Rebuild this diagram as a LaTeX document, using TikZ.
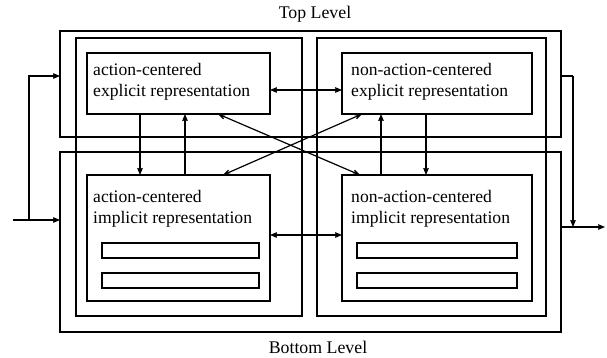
\documentclass[tikz,border=0pt]{standalone}
\usepackage{fontspec}
\setmainfont{Liberation Serif}
\usetikzlibrary{arrows.meta}
\begin{document}
\begin{tikzpicture}[x=1pt,y=-1pt,
  box/.style={draw, line width=1.3pt, rectangle, anchor=north west, inner sep=0pt, outer sep=0pt},
  lbl/.style={anchor=west, align=left, inner sep=0pt, font=\fontsize{17.6}{21}\selectfont},
  title/.style={inner sep=0pt, font=\fontsize{17.8}{19}\selectfont},
  ln/.style={line width=1.2pt},
  arr/.style={ln, -{Stealth[length=12pt,width=10pt,inset=7.5pt]}},
  darr/.style={ln, {Stealth[length=12pt,width=10pt,inset=7.5pt]}-{Stealth[length=12pt,width=10pt,inset=7.5pt]}}]
\useasboundingbox (0,0) rectangle (607,358);
% level boxes
\node[box, minimum width=501pt, minimum height=106pt] (top) at (60,31) {};
\node[box, minimum width=501pt, minimum height=180pt] (bot) at (60,152) {};
% column boxes
\node[box, minimum width=226pt, minimum height=278pt] (colL) at (76,38) {};
\node[box, minimum width=229pt, minimum height=278pt] (colR) at (317,38) {};
% module boxes
\node[box, fill=white, minimum width=183pt, minimum height=61pt] (ae) at (87,53) {};
\node[box, fill=white, minimum width=190pt, minimum height=61pt] (ne) at (342,53) {};
\node[box, fill=white, minimum width=183pt, minimum height=126pt] (ai) at (87,175) {};
\node[box, fill=white, minimum width=190pt, minimum height=126pt] (ni) at (342,175) {};
% bars
\node[box, minimum width=157pt, minimum height=15pt] (aib1) at (102,243) {};
\node[box, minimum width=157pt, minimum height=15pt] (aib2) at (102,273) {};
\node[box, minimum width=160pt, minimum height=15pt] (nib1) at (357,243) {};
\node[box, minimum width=160pt, minimum height=15pt] (nib2) at (357,273) {};
% texts
\node[lbl] (aet) at (93,82) {action-centered\\explicit representation};
\node[lbl] (net) at (351,82) {non-action-centered\\explicit representation};
\node[lbl] (ait) at (93,209) {action-centered\\implicit representation};
\node[lbl] (nit) at (351,209) {non-action-centered\\implicit representation};
\node[title] (toplbl) at (315,14) {Top Level};
\node[title] (botlbl) at (318,347) {Bottom Level};
% input / output
\coordinate (inp) at (13,220);
\coordinate (split) at (29,220);
\coordinate (outp) at (605,227);
\coordinate (outtop) at (573,76);
\draw[arr] (inp) -- (bot.west |- inp);
\draw[arr] (split) |- (top.west |- 0,76);
\draw[ln] (top.east |- outtop) -- (outtop);
\draw[arr] (outtop) -- (573,227);
\draw[arr] (bot.east |- outp) -- (outp);
% horizontal double arrows
\draw[darr] (ae.east |- 0,90) -- (ne.west |- 0,90);
\draw[darr] (ai.east |- 0,235) -- (ni.west |- 0,235);
% vertical arrows
\draw[arr] (ae.south -| 140,0) -- (ai.north -| 140,0);
\draw[arr] (ai.north -| 185,0) -- (ae.south -| 185,0);
\draw[arr] (ni.north -| 381,0) -- (ne.south -| 381,0);
\draw[arr] (ne.south -| 426,0) -- (ni.north -| 426,0);
% diagonals
\draw[darr] (ae.south -| 218,0) -- (ni.north -| 360,0);
\draw[darr] (ne.south -| 362,0) -- (ai.north -| 223,0);
\end{tikzpicture}
\end{document}
